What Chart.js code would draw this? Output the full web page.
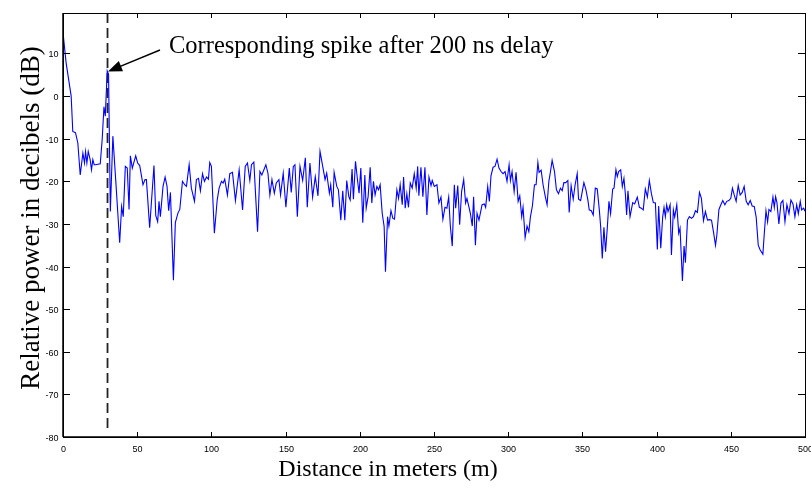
<!DOCTYPE html>
<html>
<head>
<meta charset="utf-8">
<script src="https://cdn.jsdelivr.net/npm/chart.js@4.4.0/dist/chart.umd.min.js"></script>
<style>
  html, body { margin: 0; padding: 0; background: #fff; }
</style>
</head>
<body>
<canvas id="powerChart" width="811" height="488"></canvas>
<script>
const distance = [
  0, 2.1, 5.5, 6.6, 8.4, 10.0, 11.6, 13.4, 14.5, 15.2, 16.1, 17.0, 18.3, 19.2, 20.1, 21.0, 22.0, 23.6, 25.1, 26.4,
  27.6, 28.5, 29.8, 30.7, 31.9, 33.6, 35.5, 38.2, 39.5, 40.6, 42.0, 43.3, 44.5, 45.4, 46.7, 49.0, 50.3, 51.7, 53.9, 55.3,
  56.2, 58.4, 61.3, 62.5, 63.8, 64.7, 65.6, 67.4, 68.8, 70.1, 71.2, 72.4, 74.4, 75.7, 77.5, 78.7, 80.5, 82.0, 83.2, 85.0,
  86.5, 88.6, 89.9, 91.3, 92.6, 94.0, 95.3, 96.7, 98.0, 98.9, 100.0, 102.0, 103.9, 105.2, 106.8, 107.9, 109.0, 110.8, 112.4, 114.2,
  116.2, 118.7, 121.0, 122.8, 124.3, 125.9, 127.0, 128.6, 131.1, 132.7, 134.0, 136.7, 138.1, 139.4, 140.8, 142.4, 143.7, 145.5, 146.6, 148.4,
  150.2, 152.5, 153.8, 155.2, 156.3, 157.9, 159.7, 161.5, 163.3, 164.6, 166.4, 168.2, 170.0, 171.8, 173.2, 175.0, 176.6, 177.7, 179.5, 180.4,
  181.8, 182.7, 184.5, 185.6, 187.2, 188.5, 189.9, 191.2, 192.6, 193.5, 194.8, 195.7, 197.1, 198.4, 199.5, 200.7, 202.0, 203.4, 204.3, 205.6,
  207.0, 208.1, 209.2, 210.3, 211.5, 212.6, 213.7, 215.1, 216.4, 217.3, 218.7, 219.6, 221.0, 222.3, 223.4, 225.0, 226.1, 227.2, 228.6, 229.5,
  230.6, 231.7, 232.8, 234.0, 235.3, 236.7, 238.0, 239.0, 239.8, 241.2, 242.5, 243.9, 245.2, 246.6, 248.0, 248.8, 250.2, 252.0, 253.3, 254.7,
  256.0, 257.4, 258.7, 259.9, 261.0, 262.3, 263.7, 264.6, 266.0, 267.3, 268.6, 270.0, 271.3, 272.2, 273.6, 274.5, 275.8, 276.7, 277.9, 279.0,
  280.3, 282.4, 283.9, 284.8, 286.2, 287.3, 288.4, 289.8, 291.1, 292.5, 293.8, 295.2, 296.5, 297.9, 299.2, 300.6, 301.5, 302.6, 304.0, 305.3,
  306.7, 307.8, 309.1, 310.0, 311.4, 312.7, 313.9, 315.0, 316.3, 317.7, 318.8, 320.0, 320.8, 322.2, 323.5, 324.9, 326.2, 327.4, 328.5, 329.6,
  331.2, 332.5, 333.9, 335.2, 336.4, 337.5, 338.8, 340.2, 341.1, 342.4, 343.8, 345.1, 346.5, 347.4, 348.8, 349.9, 351.0, 352.4, 353.7, 354.6,
  356.0, 357.3, 358.7, 360.0, 361.4, 362.3, 363.4, 364.5, 365.6, 366.8, 367.9, 369.0, 370.4, 371.3, 372.6, 373.5, 374.4, 375.8, 376.9, 378.0,
  379.0, 379.8, 380.7, 382.1, 383.9, 385.2, 386.1, 387.0, 388.4, 389.7, 391.0, 392.4, 393.8, 395.1, 396.5, 397.8, 399.2, 400.5, 401.4, 402.8,
  404.1, 405.0, 405.9, 406.8, 407.7, 409.1, 410.0, 411.3, 412.2, 413.6, 414.9, 415.8, 417.4, 418.5, 419.4, 420.8, 422.1, 423.5, 424.8, 426.2,
  427.5, 428.9, 430.2, 431.6, 432.9, 434.3, 435.6, 437.0, 438.3, 439.7, 440.6, 442.0, 443.3, 444.6, 446.0, 447.3, 448.7, 450.0, 451.1, 452.3,
  453.6, 455.0, 456.3, 457.7, 459.0, 460.4, 461.7, 463.1, 464.4, 465.8, 467.1, 468.5, 469.8, 471.6, 472.5, 473.7, 474.8, 475.7, 477.0, 478.4,
  479.3, 480.2, 481.1, 482.4, 483.8, 485.1, 486.5, 487.8, 489.2, 490.5, 491.9, 493.2, 494.4, 495.5, 496.8, 497.7, 499.1, 500.0
];
const power = [
  14.9, 7.8, 0, -8.3, -8.6, -11.0, -18.5, -13.4, -15.7, -13.0, -15.7, -13.0, -14.9, -17.3, -14.9, -16.1, -16.1, -16.0, -15.9, -10.2,
  -2.5, -4.7, 5.9, 5.1, -27.1, -9.4, -19.6, -34.4, -25.9, -28.3, -16.5, -16.9, -26.6, -14.0, -16.9, -14.0, -15.7, -16.3, -20.8, -19.6,
  -19.6, -30.9, -16.3, -28.0, -29.5, -24.7, -28.3, -21.2, -19.0, -21.2, -26.9, -22.6, -43.2, -29.7, -27.4, -26.6, -20.0, -20.8, -21.2, -16.1,
  -21.6, -24.7, -19.6, -19.3, -22.2, -18.2, -20.0, -19.0, -19.5, -15.6, -16.5, -32.2, -24.4, -21.6, -20.0, -20.4, -19.5, -23.2, -18.2, -17.9,
  -24.5, -17.3, -26.7, -16.5, -15.7, -19.8, -16.1, -15.5, -31.8, -17.7, -18.5, -16.1, -18.1, -23.2, -19.6, -22.8, -20.4, -19.6, -23.2, -18.1,
  -26.1, -16.9, -22.6, -16.5, -16.1, -28.3, -16.5, -19.8, -14.5, -26.1, -15.7, -23.7, -18.9, -23.4, -13.0, -16.5, -19.6, -18.1, -22.8, -20.8,
  -26.1, -17.9, -21.2, -22.0, -29.1, -22.2, -29.1, -19.8, -23.6, -24.4, -17.1, -24.2, -15.3, -19.5, -22.8, -16.9, -29.7, -18.5, -26.3, -23.6,
  -16.7, -25.1, -20.0, -23.2, -21.2, -22.0, -20.8, -27.5, -30.6, -41.2, -28.3, -30.5, -26.9, -28.7, -28.9, -22.0, -24.0, -20.8, -25.5, -19.0,
  -26.3, -22.9, -26.1, -20.4, -21.6, -18.2, -21.6, -16.5, -23.4, -16.7, -23.6, -16.7, -27.9, -19.0, -21.0, -19.8, -21.2, -20.8, -25.1, -23.7,
  -28.9, -26.1, -26.3, -23.7, -30.5, -35.2, -20.8, -26.3, -21.0, -30.2, -22.4, -19.6, -25.1, -24.0, -26.1, -27.5, -30.5, -23.6, -35.0, -27.5,
  -29.1, -25.5, -25.3, -26.1, -21.2, -24.7, -18.7, -16.7, -16.5, -14.8, -16.9, -17.7, -18.2, -17.7, -20.0, -16.1, -19.8, -17.7, -22.4, -17.9,
  -24.7, -23.4, -28.3, -26.1, -33.2, -30.5, -31.8, -28.3, -25.8, -20.8, -20.8, -15.6, -17.9, -17.4, -20.8, -23.4, -25.5, -20.0, -17.7, -15.1,
  -17.7, -22.0, -22.9, -21.6, -22.2, -20.3, -20.3, -19.8, -27.3, -21.0, -24.2, -20.8, -18.2, -24.2, -24.5, -22.4, -20.3, -22.0, -24.4, -26.7,
  -26.9, -27.9, -21.6, -21.8, -26.7, -30.6, -38.1, -30.8, -36.5, -30.8, -24.7, -27.6, -21.8, -21.6, -17.3, -18.9, -17.7, -17.3, -21.2, -19.3,
  -23.2, -27.9, -22.2, -28.3, -25.0, -25.3, -24.5, -23.7, -26.1, -26.3, -26.7, -21.8, -23.7, -19.8, -22.9, -25.0, -25.1, -36.0, -25.8, -35.7,
  -28.3, -26.1, -28.3, -25.5, -27.1, -25.5, -37.3, -26.7, -28.4, -25.5, -32.2, -31.0, -43.4, -35.2, -39.1, -29.1, -28.3, -28.7, -28.3, -26.9,
  -27.3, -22.6, -24.0, -29.2, -27.1, -29.1, -29.0, -29.1, -31.8, -35.0, -32.6, -26.6, -25.5, -24.5, -25.5, -24.7, -24.5, -24.0, -21.6, -23.2,
  -24.7, -21.0, -23.2, -22.6, -21.2, -24.7, -25.5, -24.5, -25.8, -25.9, -28.4, -35.0, -36.1, -37.1, -32.6, -26.9, -29.5, -26.6, -27.1, -23.7,
  -26.1, -23.6, -25.0, -30.0, -25.1, -24.5, -29.5, -25.5, -27.6, -24.4, -25.3, -28.3, -25.5, -27.6, -24.7, -26.7, -26.3, -27.0
];

// vertical marker at the 200 ns delay
const delayLineX = [30, 30];
const delayLineY = [19.5, -79];

const xTicks = [0, 50, 100, 150, 200, 250, 300, 350, 400, 450, 500];
const yTicks = [-80, -70, -60, -50, -40, -30, -20, -10, 0, 10];

const xTitle = 'Distance in meters (m)';
const yTitle = 'Relative power in decibels (dB)';
const noteText = 'Corresponding spike after 200 ns delay';
const notePoint = [30.3, 5.8];

const tickFont = '9px "Liberation Sans", Arial, sans-serif';
const serif = '"Liberation Serif", "Times New Roman", serif';

const matlabFrame = {
  id: 'matlabFrame',
  afterDraw(chart) {
    const ctx = chart.ctx;
    const a = chart.chartArea;
    const xs = chart.scales.x;
    const ys = chart.scales.y;
    ctx.save();

    // box
    ctx.strokeStyle = '#000';
    ctx.lineWidth = 1;
    ctx.strokeRect(Math.round(a.left) + 0.5, Math.round(a.top) + 0.5,
      Math.round(a.right - a.left), Math.round(a.bottom - a.top));
    ctx.lineWidth = 1.5;
    ctx.beginPath();
    ctx.moveTo(a.left, a.bottom);
    ctx.lineTo(a.right, a.bottom);
    ctx.moveTo(a.left, a.top);
    ctx.lineTo(a.left, a.bottom);
    ctx.stroke();

    // inward ticks + labels
    ctx.lineWidth = 1;
    ctx.fillStyle = '#000';
    ctx.font = tickFont;
    xs.ticks.forEach(t => {
      const px = Math.round(xs.getPixelForValue(t.value)) + 0.5;
      ctx.beginPath();
      ctx.moveTo(px, a.bottom);
      ctx.lineTo(px, a.bottom - 5);
      ctx.moveTo(px, a.top);
      ctx.lineTo(px, a.top + 5);
      ctx.stroke();
      ctx.textAlign = 'center';
      ctx.textBaseline = 'alphabetic';
      ctx.fillText(String(t.value), px, a.bottom + 15);
    });
    ys.ticks.forEach(t => {
      const py = Math.round(ys.getPixelForValue(t.value)) + 0.5;
      ctx.beginPath();
      ctx.moveTo(a.left, py);
      ctx.lineTo(a.left + 7, py);
      ctx.moveTo(a.right, py);
      ctx.lineTo(a.right - 7, py);
      ctx.stroke();
      ctx.textAlign = 'right';
      ctx.textBaseline = 'alphabetic';
      ctx.fillText(String(t.value), a.left - 4.5, py + 3.2);
    });

    // axis titles
    ctx.font = '24px ' + serif;
    ctx.textAlign = 'center';
    ctx.fillText(xTitle, 388, 476);
    ctx.save();
    ctx.translate(39, 218);
    ctx.rotate(-Math.PI / 2);
    ctx.font = '27px ' + serif;
    ctx.fillText(yTitle, 0, 0);
    ctx.restore();

    // annotation and arrow
    ctx.font = '24.5px ' + serif;
    ctx.textAlign = 'left';
    ctx.fillText(noteText, 169, 53);
    const tx = xs.getPixelForValue(notePoint[0]);
    const ty = ys.getPixelForValue(notePoint[1]);
    const sx = 160, sy = 50;
    const ang = Math.atan2(ty - sy, tx - sx);
    ctx.lineWidth = 1.4;
    ctx.beginPath();
    ctx.moveTo(sx, sy);
    ctx.lineTo(tx - 10 * Math.cos(ang), ty - 10 * Math.sin(ang));
    ctx.stroke();
    ctx.beginPath();
    ctx.moveTo(tx, ty);
    ctx.lineTo(tx - 14 * Math.cos(ang) + 5.5 * Math.sin(ang), ty - 14 * Math.sin(ang) - 5.5 * Math.cos(ang));
    ctx.lineTo(tx - 14 * Math.cos(ang) - 5.5 * Math.sin(ang), ty - 14 * Math.sin(ang) + 5.5 * Math.cos(ang));
    ctx.closePath();
    ctx.fill();
    ctx.restore();
  }
};

const ctx = document.getElementById('powerChart').getContext('2d');
new Chart(ctx, {
  type: 'line',
  data: {
    datasets: [
      {
        data: distance.map((d, i) => ({ x: d, y: power[i] })),
        borderColor: '#0000ff',
        borderWidth: 1.1,
        pointRadius: 0,
        tension: 0,
        fill: false
      },
      {
        data: delayLineX.map((d, i) => ({ x: d, y: delayLineY[i] })),
        borderColor: '#222',
        borderWidth: 1.8,
        borderDash: [10, 5],
        pointRadius: 0,
        fill: false
      }
    ]
  },
  options: {
    responsive: false,
    animation: false,
    maintainAspectRatio: false,
    layout: { padding: { top: 13, right: 6, left: 0, bottom: 0 } },
    plugins: {
      legend: { display: false },
      tooltip: { enabled: false }
    },
    scales: {
      x: {
        type: 'linear',
        min: 0,
        max: 500,
        afterBuildTicks: s => { s.ticks = xTicks.map(v => ({ value: v })); },
        afterFit: s => { s.height = 51; },
        ticks: { display: false },
        grid: { display: false },
        border: { display: false }
      },
      y: {
        type: 'linear',
        min: -80,
        max: 19.5,
        afterBuildTicks: s => { s.ticks = yTicks.map(v => ({ value: v })); },
        afterFit: s => { s.width = 63; },
        ticks: { display: false },
        grid: { display: false },
        border: { display: false }
      }
    }
  },
  plugins: [matlabFrame]
});
</script>
</body>
</html>
